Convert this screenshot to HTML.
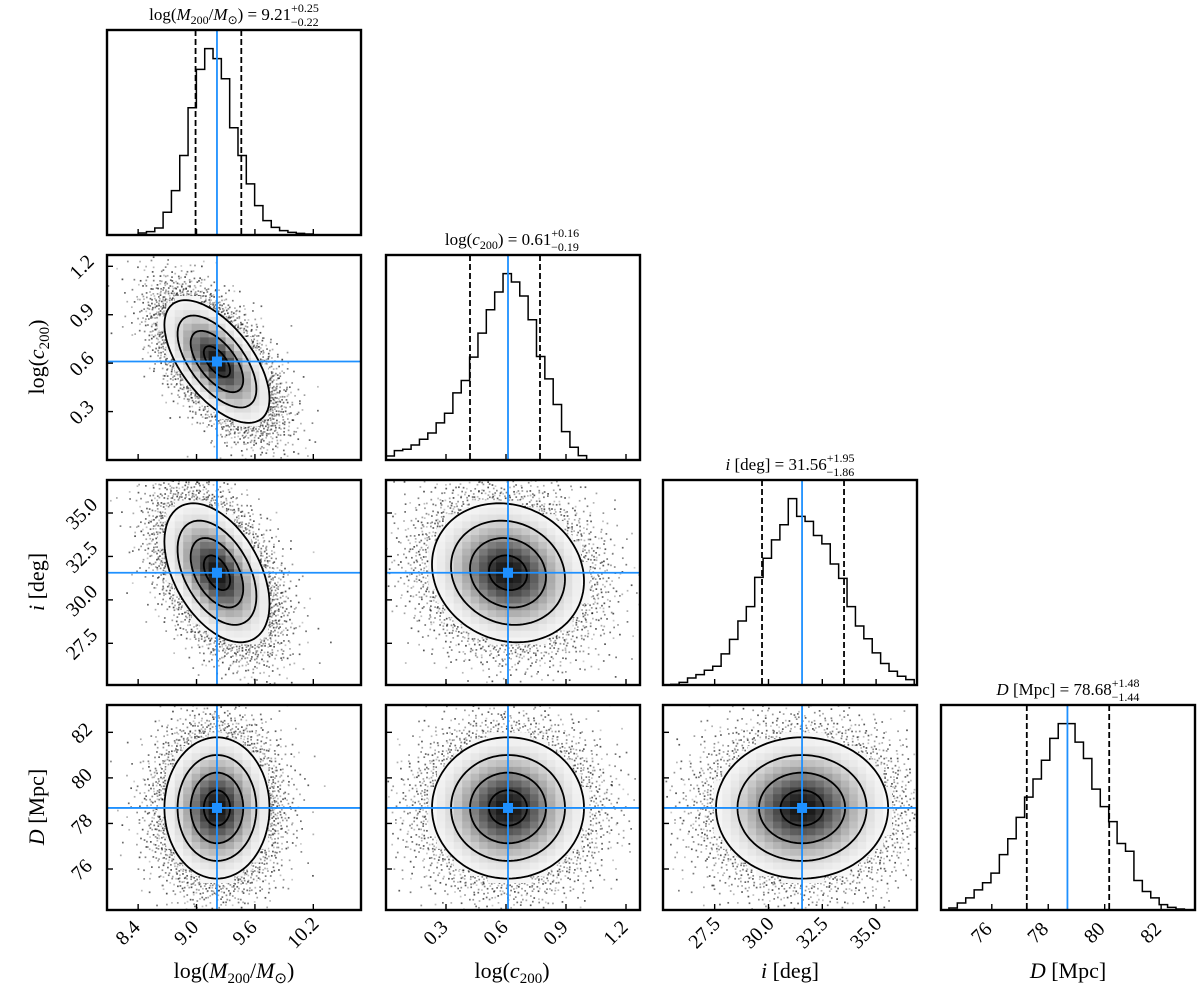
<!DOCTYPE html>
<html><head><meta charset="utf-8"><style>
html,body{margin:0;padding:0;background:#fff}
svg{display:block;font-family:"Liberation Serif",serif}
</style></head><body>
<svg id="fig" width="1200" height="1000" viewBox="0 0 1200 1000" xmlns="http://www.w3.org/2000/svg">
<rect width="1200" height="1000" fill="#fff"/>
<g id="layer"></g>
<g font-size="17" text-anchor="middle" fill="#000">
<text x="234" y="20">log(<tspan font-style="italic">M</tspan><tspan font-size="12" dy="4">200</tspan><tspan dy="-4">/</tspan><tspan font-style="italic">M</tspan><tspan font-size="12" dy="4">⊙</tspan><tspan dy="-4">) = 9.21</tspan><tspan font-size="12" dy="-8">+0.25</tspan><tspan font-size="12" dx="-28" dy="14">−0.22</tspan></text>
<text x="512" y="245">log(<tspan font-style="italic">c</tspan><tspan font-size="12" dy="4">200</tspan><tspan dy="-4">) = 0.61</tspan><tspan font-size="12" dy="-8">+0.16</tspan><tspan font-size="12" dx="-28" dy="14">−0.19</tspan></text>
<text x="790" y="470"><tspan font-style="italic">i</tspan> [deg] = 31.56<tspan font-size="12" dy="-8">+1.95</tspan><tspan font-size="12" dx="-28" dy="14">−1.86</tspan></text>
<text x="1068" y="695"><tspan font-style="italic">D</tspan> [Mpc] = 78.68<tspan font-size="12" dy="-8">+1.48</tspan><tspan font-size="12" dx="-28" dy="14">−1.44</tspan></text>
</g>
<g font-size="22" text-anchor="middle" fill="#000">
<text x="234" y="978">log(<tspan font-style="italic">M</tspan><tspan font-size="15" dy="5">200</tspan><tspan dy="-5">/</tspan><tspan font-style="italic">M</tspan><tspan font-size="15" dy="5">⊙</tspan><tspan dy="-5">)</tspan></text>
<text x="512" y="978">log(<tspan font-style="italic">c</tspan><tspan font-size="15" dy="5">200</tspan><tspan dy="-5">)</tspan></text>
<text x="790" y="978"><tspan font-style="italic">i</tspan> [deg]</text>
<text x="1068" y="978"><tspan font-style="italic">D</tspan> [Mpc]</text>
<text transform="translate(44,357) rotate(-90)">log(<tspan font-style="italic">c</tspan><tspan font-size="15" dy="5">200</tspan><tspan dy="-5">)</tspan></text>
<text transform="translate(44,582) rotate(-90)"><tspan font-style="italic">i</tspan> [deg]</text>
<text transform="translate(44,807) rotate(-90)"><tspan font-style="italic">D</tspan> [Mpc]</text>
</g>
</svg>
<script>
// ---- data ----
const paramNames = ["mass","concentration","inclination","distance"];
const ranges = [[8.08,10.69],[0.0,1.27],[25.1,36.9],[74.2,83.2]];
const tickValues = [[8.4,9.0,9.6,10.2],[0.3,0.6,0.9,1.2],[27.5,30.0,32.5,35.0],[76,78,80,82]];
const tickLabels = [["8.4","9.0","9.6","10.2"],["0.3","0.6","0.9","1.2"],["27.5","30.0","32.5","35.0"],["76","78","80","82"]];
const truths = [9.21,0.61,31.56,78.68];
const qLow = [8.99,0.42,29.70,77.24];
const qHigh = [9.46,0.77,33.51,80.16];
const sigmas = [0.27,0.19,2.0,1.55];
const corrCM = -0.6, corrIM = -0.45, corrIC = -0.12, corrDM = 0.0, corrDC = 0.0, corrDI = 0.0;
const histStart = [8.40,0.0,25.46,74.48];
const histWidth = [0.0855,0.0418,0.39,0.298];
const histMass = [6,10,21,68,133,238,381,496,558,528,468,321,238,153,88,43,23,13,8,5,3];
const histConc = [12,28,32,45,62,81,111,140,201,238,308,380,450,503,558,533,491,420,310,243,166,85,38,13];
const histIncl = [2,8,21,31,44,56,93,136,191,234,321,378,433,478,556,503,488,446,421,361,318,234,176,138,96,64,41,26,16];
const histDist = [6,21,36,60,81,110,165,212,276,336,390,446,511,555,555,500,451,360,308,263,198,175,88,55,36,16,8,3];
const contourLevels = [0.5,1.0,1.5,2.0];

// ---- layout ----
const NS="http://www.w3.org/2000/svg";
const colLeft=[107,386,663,941], rowTop=[30,255,480,705], PW=254, PH=205;
const BLUE="#1e90ff";
const layer=document.getElementById('layer');
function el(tag,attrs,parent){const e=document.createElementNS(NS,tag);for(const k in attrs)e.setAttribute(k,attrs[k]);(parent||layer).appendChild(e);return e;}
function sx(p,v){const r=ranges[p];return colLeft[p]+(v-r[0])/(r[1]-r[0])*PW;}
function syRow(row,p,v){const r=ranges[p];return rowTop[row]+PH-(v-r[0])/(r[1]-r[0])*PH;}
const hists=[histMass,histConc,histIncl,histDist];
const corr={"1,0":corrCM,"2,0":corrIM,"2,1":corrIC,"3,0":corrDM,"3,1":corrDC,"3,2":corrDI};
function halton(i,b){let f=1,r=0;while(i>0){f/=b;r+=f*(i%b);i=Math.floor(i/b);}return r;}

for(let row=0;row<4;row++){
 for(let col=0;col<=row;col++){
  const x0=colLeft[col], y0=rowTop[row];
  const g=el('g',{});
  
  
  const cid='clip'+row+col;
  const cp=el('clipPath',{id:cid},g); el('rect',{x:x0,y:y0,width:PW,height:PH},cp);
  const inner=el('g',{'clip-path':'url(#'+cid+')'},g);
  if(row===col){
   const h=hists[col]; const mx=Math.max(...h)*1.1;
   const base=y0+PH;
   let d='M'+sx(col,histStart[col])+' '+base;
   for(let k=0;k<h.length;k++){
    const xa=sx(col,histStart[col]+k*histWidth[col]), xb=sx(col,histStart[col]+(k+1)*histWidth[col]);
    const yy=base-h[k]/mx*PH;
    d+=' L'+xa+' '+yy+' L'+xb+' '+yy;
   }
   d+=' L'+sx(col,histStart[col]+h.length*histWidth[col])+' '+base;
   const hp=el('path',{d:d,fill:'none',stroke:'#000','stroke-width':1.5},inner);
   
   
   [qLow[col],qHigh[col]].forEach(q=>{
    const ql=el('line',{x1:sx(col,q),x2:sx(col,q),y1:y0,y2:y0+PH,stroke:'#000','stroke-width':1.8,'stroke-dasharray':'6,3'},inner);
    
    
   });
   const tl=el('line',{x1:sx(col,truths[col]),x2:sx(col,truths[col]),y1:y0,y2:y0+PH,stroke:BLUE,'stroke-width':1.8},inner);
   
   
  } else {
   const rho=corr[row+','+col];
   const mx=truths[col], my=truths[row], sxg=sigmas[col], syg=sigmas[row];
   const rq=Math.sqrt(1-rho*rho);
   function maha(vx,vy){const a=(vx-mx)/sxg,b=(vy-my)/syg;return (a*a-2*rho*a*b+b*b)/(1-rho*rho);}
   const dots=el('g',{fill:'#000'},inner);
   
   
   for(let k=1;k<7000;k++){
    const u1=halton(k+row*7001+col*131,2), u2=halton(k+row*7001+col*131,3);
    const rr=Math.sqrt(-2*Math.log(Math.max(u1,1e-9)))*1.1, th=2*Math.PI*u2;
    const z1=rr*Math.cos(th), z2=rr*Math.sin(th);
    const vx=mx+sxg*z1, vy=my+syg*(rho*z1+rq*z2);
    if(maha(vx,vy)<4.05) continue;
    const op=0.2+0.5*halton(k,5);
    el('rect',{x:sx(col,vx)-0.8,y:syRow(row,row,vy)-0.8,width:1.7,height:1.7,'fill-opacity':op.toFixed(2)},dots);
   }
   const nb=30;
   const cells=el('g',{},inner);
   
   
   const rx=ranges[col], ry=ranges[row];
   for(let i=0;i<nb;i++)for(let j=0;j<nb;j++){
    const vx=rx[0]+(i+0.5)*(rx[1]-rx[0])/nb, vy=ry[0]+(j+0.5)*(ry[1]-ry[0])/nb;
    const m=maha(vx,vy); if(m>4.4) continue;
    const gv=Math.round(255*(1-0.93*Math.pow(Math.exp(-m/2),1.6)));
    const xa=sx(col,rx[0]+i*(rx[1]-rx[0])/nb), xb=sx(col,rx[0]+(i+1)*(rx[1]-rx[0])/nb);
    const ya=syRow(row,row,ry[0]+(j+1)*(ry[1]-ry[0])/nb), yb=syRow(row,row,ry[0]+j*(ry[1]-ry[0])/nb);
    el('rect',{x:xa,y:ya,width:xb-xa+0.4,height:yb-ya+0.4,fill:'rgb('+gv+','+gv+','+gv+')'},cells);
   }
   contourLevels.forEach((lv,li)=>{
    let d='';
    for(let t=0;t<=120;t++){
     const a=t/120*2*Math.PI;
     const vx=mx+sxg*lv*Math.cos(a), vy=my+syg*lv*(rho*Math.cos(a)+rq*Math.sin(a));
     d+=(t?' L':'M')+sx(col,vx).toFixed(1)+' '+syRow(row,row,vy).toFixed(1);
    }
    const c=el('path',{d:d+'Z',fill:'none',stroke:'#000','stroke-width':1.8},inner);
    
    
   });
   const vl=el('line',{x1:sx(col,truths[col]),x2:sx(col,truths[col]),y1:y0,y2:y0+PH,stroke:BLUE,'stroke-width':1.8},inner);
   
   
   const hl=el('line',{x1:x0,x2:x0+PW,y1:syRow(row,row,truths[row]),y2:syRow(row,row,truths[row]),stroke:BLUE,'stroke-width':1.8},inner);
   
   
   const mk=el('rect',{x:sx(col,truths[col])-5,y:syRow(row,row,truths[row])-5,width:10,height:10,fill:BLUE},inner);
   
   
   tickValues[row].forEach((tv,ti)=>{
    const yy=syRow(row,row,tv);
    el('line',{x1:x0,x2:x0+6,y1:yy,y2:yy,stroke:'#000','stroke-width':1.4},g);
    if(col===0){
     const t=el('text',{transform:'translate('+(x0-24)+','+(yy+2)+') rotate(-45)','text-anchor':'middle','dominant-baseline':'middle','font-size':20},g);
     t.textContent=tickLabels[row][ti];
     
     
    }
   });
  }
  tickValues[col].forEach((tv,ti)=>{
   const xx=sx(col,tv);
   el('line',{x1:xx,x2:xx,y1:y0+PH,y2:y0+PH-6,stroke:'#000','stroke-width':1.4},g);
   if(row===3){
    const t=el('text',{transform:'translate('+(xx-9)+','+(y0+PH+24)+') rotate(-45)','text-anchor':'middle','dominant-baseline':'middle','font-size':20},g);
    t.textContent=tickLabels[col][ti];
    
    
   }
  });
  const fr=el('rect',{x:x0,y:y0,width:PW,height:PH,fill:'none',stroke:'#000','stroke-width':2.4},g);
  
  
 }
}
</script>
</body></html>
